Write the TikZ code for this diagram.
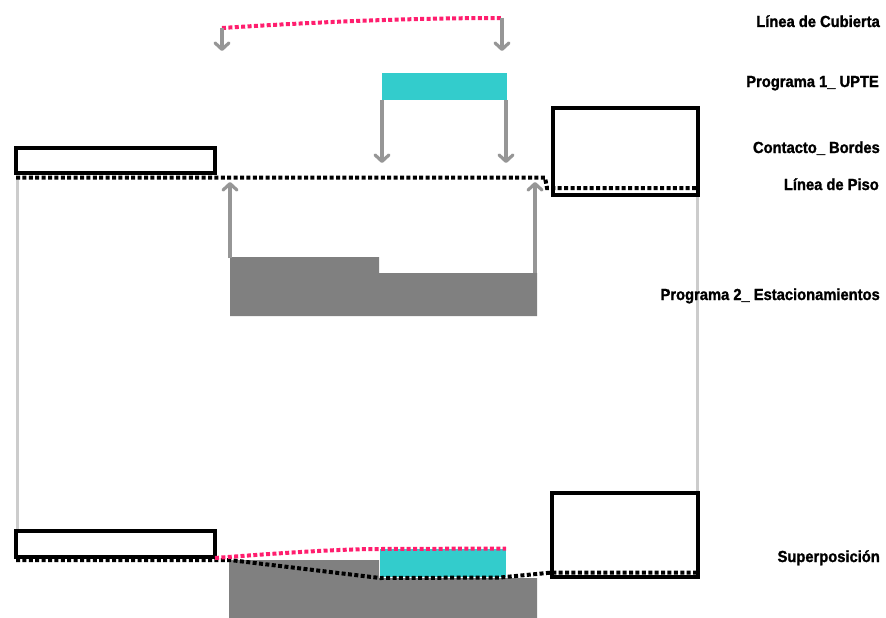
\documentclass[tikz,border=0pt]{standalone}
\usepackage{fontspec}
\setmainfont{Liberation Sans}
\newfontfamily\lblfont[UprightFont={* Bold}, FakeStretch=0.92, FakeBold=1.4]{Liberation Sans}
\usetikzlibrary{arrows.meta}
\definecolor{pinkline}{RGB}{255,30,110}
\definecolor{cyanfill}{RGB}{51,204,204}
\definecolor{darkfill}{RGB}{128,128,128}
\definecolor{arrowgray}{RGB}{150,150,150}
\definecolor{lightline}{RGB}{204,204,204}
\tikzset{
  outlinebox/.style={draw=black, line width=3.5pt, fill=white, inner sep=0pt, outer sep=0pt},
  cyanbox/.style={fill=cyanfill, draw=none, inner sep=0pt, outer sep=0pt},
  dotline/.style={draw=black, line width=4pt, dash pattern=on 4pt off 2.4pt},
  pinkdot/.style={draw=pinkline, line width=4pt, dash pattern=on 4pt off 2.4pt},
  grayarrow/.style={draw=arrowgray, line width=3.2pt, -{Straight Barb[length=6.5pt,width=14pt,round]}},
  guide/.style={draw=lightline, line width=3pt},
  lbl/.style={anchor=base east, inner sep=0pt, font=\lblfont\fontsize{16}{18}\selectfont}
}
\begin{document}
\begin{tikzpicture}[x=1pt,y=-1pt]
\useasboundingbox (0,0) rectangle (886,618);
% guides
\coordinate (gl1) at (17,178);
\coordinate (gl2) at (17,531);
\coordinate (gr1) at (697,195);
\coordinate (gr2) at (697,493);
\draw[guide] (gl1) -- (gl2);
\draw[guide] (gr1) -- (gr2);

% ---------- top: Linea de Cubierta ----------
\coordinate (c1) at (222,28);
\coordinate (c2) at (502,18);
\draw[pinkdot] (c1) .. controls (300,23) and (400,18) .. (c2);
\coordinate (c1b) at (222,51);
\coordinate (c2b) at (502,51);
\draw[grayarrow] (c1) -- (c1b);
\draw[grayarrow] (c2) -- (c2b);

% ---------- Programa 1 ----------
\node[cyanbox, minimum width=125pt, minimum height=27pt] (upte) at (444.5,86.5) {};
\coordinate (u1) at (upte.south west);
\coordinate (u2) at ([xshift=-1pt]upte.south east);
\coordinate (u1b) at (382,163);
\coordinate (u2b) at (506,163);
\draw[grayarrow] (u1) -- (u1b);
\draw[grayarrow] (u2) -- (u2b);

% ---------- Contacto bordes (top) ----------
\node[outlinebox, minimum width=199pt, minimum height=25pt] (lbox) at (115.5,160.5) {};
\node[outlinebox, minimum width=145pt, minimum height=87pt] (rbox) at (625.5,151.5) {};

% floor line
\coordinate (f0) at (16,177.5);
\coordinate (f1) at (545,177.5);
\coordinate (f2) at (547,188);
\coordinate (f3) at (697,188);
\draw[dotline] (f0) -- (f1) -- (f2) -- (f3);

% ---------- Programa 2 ----------
\fill[darkfill] (230,257) -- (379,257) -- (379,273) -- (537,273) -- (537,316) -- (230,316) -- cycle;
\coordinate (p1) at (230,258);
\coordinate (p2) at (535,273);
\coordinate (p1b) at (230,182);
\coordinate (p2b) at (535,182);
\draw[grayarrow] (p1) -- (p1b);
\draw[grayarrow] (p2) -- (p2b);

% ---------- Superposicion ----------
\fill[darkfill] (229,560) -- (379,560) -- (379,578) -- (537,578) -- (537,618) -- (229,618) -- cycle;
\node[cyanbox, minimum width=126pt, minimum height=28pt] (upteb) at (443,563) {};
\node[outlinebox, minimum width=199pt, minimum height=26pt] (lboxb) at (115.5,544) {};
\node[outlinebox, minimum width=146pt, minimum height=84pt] (rboxb) at (625,535) {};
\coordinate (b0) at (16,560);
\coordinate (b1) at (230,560);
\coordinate (b2) at (380,578);
\coordinate (b3) at (500,577.5);
\coordinate (b4) at (552,572.5);
\coordinate (b5) at (697,572.5);
\draw[dotline] (b0) -- (b1) -- (b2) -- (b3) -- (b4) -- (b5);
\coordinate (q1) at (215,558);
\coordinate (q2) at (380,549);
\coordinate (q3) at (506,548.5);
\draw[pinkdot] (q1) .. controls (280,553) and (340,549) .. (q2) -- (q3);

% ---------- labels ----------
\node[lbl] (t1) at (880,27) {Línea de Cubierta};
\node[lbl] (t2) at (879,87) {Programa 1\_ UPTE};
\node[lbl] (t3) at (880,153) {Contacto\_ Bordes};
\node[lbl] (t4) at (879,190) {Línea de Piso};
\node[lbl] (t5) at (880,300) {Programa 2\_ Estacionamientos};
\node[lbl] (t6) at (880,562) {Superposición};
\end{tikzpicture}
\end{document}
